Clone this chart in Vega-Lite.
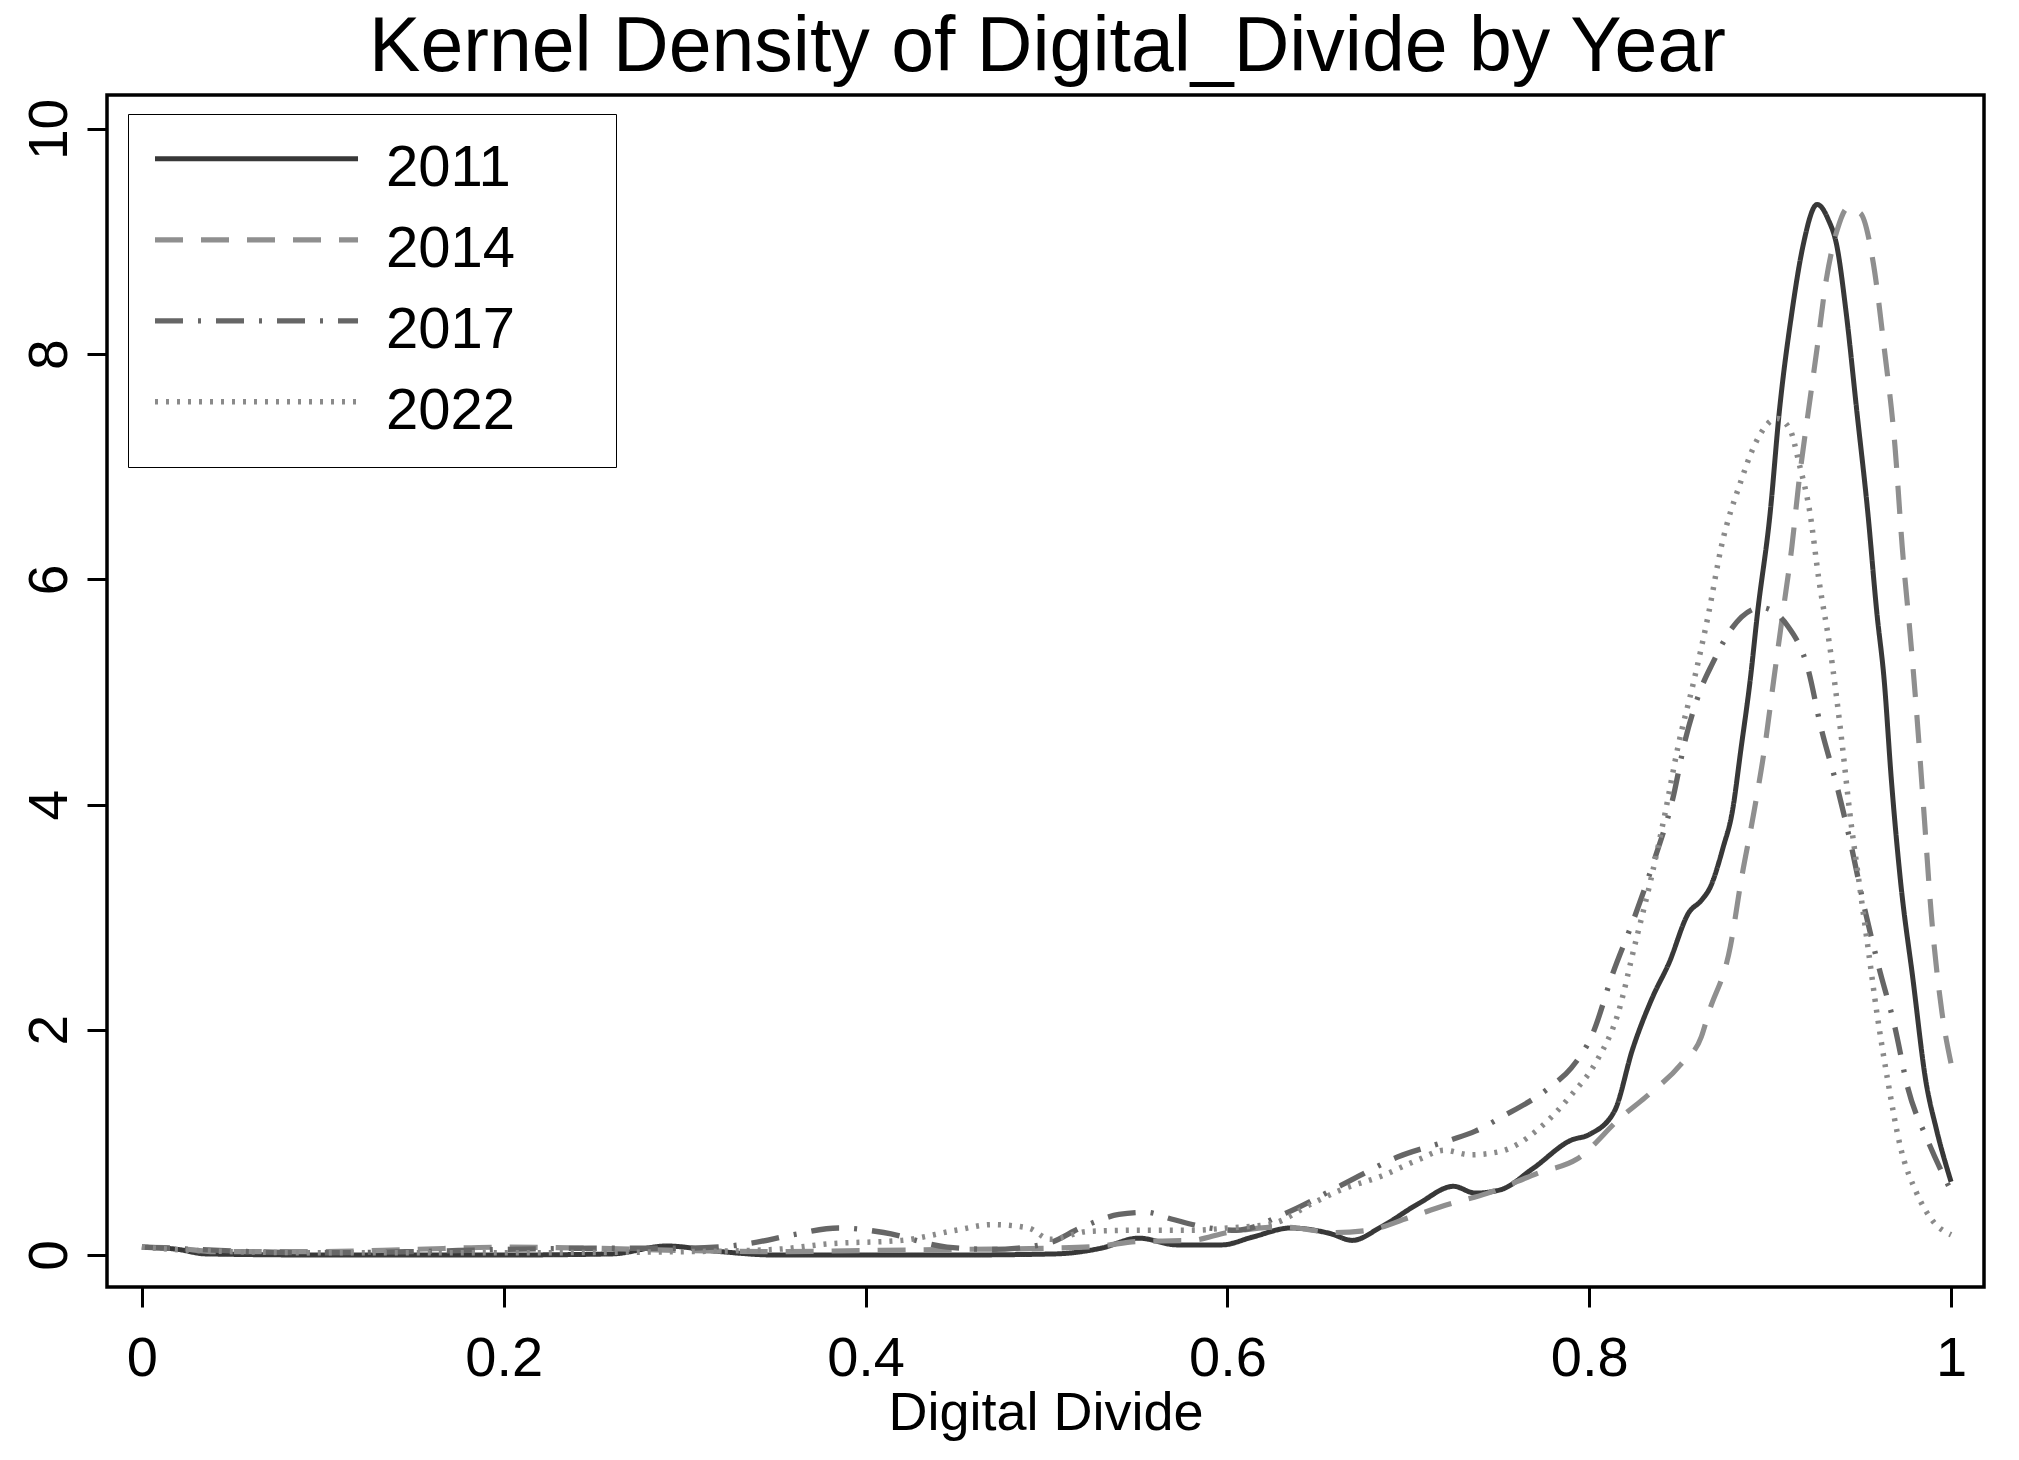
{
  "$schema": "https://vega.github.io/schema/vega-lite/v6.json",
  "width": 1877,
  "height": 1192,
  "autosize": "none",
  "padding": {"left": 107, "top": 95, "right": 35, "bottom": 173},
  "background": "white",
  "title": {
    "text": "Kernel Density of Digital_Divide by Year",
    "font": "Liberation Sans",
    "fontSize": 77,
    "fontWeight": "normal",
    "color": "black",
    "anchor": "middle",
    "offset": 8,
    "dx": 2
  },
  "config": {
    "view": {"stroke": "black", "strokeWidth": 3.5},
    "axis": {
      "grid": false,
      "domain": false,
      "tickColor": "black",
      "tickWidth": 3,
      "tickSize": 20,
      "labelFont": "Liberation Sans",
      "labelColor": "black",
      "titleFont": "Liberation Sans",
      "titleColor": "black",
      "titleFontWeight": "normal"
    }
  },
  "datasets": {
    "kd": [
      {"year": "2011", "x": 0.0, "d": 0.07},
      {"year": "2011", "x": 0.02, "d": 0.05},
      {"year": "2011", "x": 0.035, "d": 0.01},
      {"year": "2011", "x": 0.1, "d": 0.0},
      {"year": "2011", "x": 0.2, "d": 0.0},
      {"year": "2011", "x": 0.26, "d": 0.01},
      {"year": "2011", "x": 0.29, "d": 0.08},
      {"year": "2011", "x": 0.32, "d": 0.03},
      {"year": "2011", "x": 0.35, "d": 0.0},
      {"year": "2011", "x": 0.45, "d": 0.0},
      {"year": "2011", "x": 0.505, "d": 0.01},
      {"year": "2011", "x": 0.53, "d": 0.06},
      {"year": "2011", "x": 0.551, "d": 0.15},
      {"year": "2011", "x": 0.572, "d": 0.09},
      {"year": "2011", "x": 0.597, "d": 0.09},
      {"year": "2011", "x": 0.614, "d": 0.16},
      {"year": "2011", "x": 0.635, "d": 0.24},
      {"year": "2011", "x": 0.657, "d": 0.19},
      {"year": "2011", "x": 0.669, "d": 0.13},
      {"year": "2011", "x": 0.685, "d": 0.25},
      {"year": "2011", "x": 0.706, "d": 0.46},
      {"year": "2011", "x": 0.725, "d": 0.61},
      {"year": "2011", "x": 0.737, "d": 0.55},
      {"year": "2011", "x": 0.751, "d": 0.58},
      {"year": "2011", "x": 0.769, "d": 0.77},
      {"year": "2011", "x": 0.79, "d": 1.02},
      {"year": "2011", "x": 0.8, "d": 1.07},
      {"year": "2011", "x": 0.814, "d": 1.28},
      {"year": "2011", "x": 0.824, "d": 1.83},
      {"year": "2011", "x": 0.835, "d": 2.29},
      {"year": "2011", "x": 0.844, "d": 2.59},
      {"year": "2011", "x": 0.855, "d": 3.04},
      {"year": "2011", "x": 0.862, "d": 3.15},
      {"year": "2011", "x": 0.867, "d": 3.27},
      {"year": "2011", "x": 0.874, "d": 3.62},
      {"year": "2011", "x": 0.879, "d": 3.93},
      {"year": "2011", "x": 0.884, "d": 4.51},
      {"year": "2011", "x": 0.889, "d": 5.11},
      {"year": "2011", "x": 0.893, "d": 5.7},
      {"year": "2011", "x": 0.9, "d": 6.59},
      {"year": "2011", "x": 0.905, "d": 7.48},
      {"year": "2011", "x": 0.912, "d": 8.37},
      {"year": "2011", "x": 0.918, "d": 8.95},
      {"year": "2011", "x": 0.926, "d": 9.33},
      {"year": "2011", "x": 0.932, "d": 9.2},
      {"year": "2011", "x": 0.937, "d": 8.95},
      {"year": "2011", "x": 0.942, "d": 8.37},
      {"year": "2011", "x": 0.948, "d": 7.48},
      {"year": "2011", "x": 0.954, "d": 6.59},
      {"year": "2011", "x": 0.959, "d": 5.7},
      {"year": "2011", "x": 0.963, "d": 5.11},
      {"year": "2011", "x": 0.967, "d": 4.22},
      {"year": "2011", "x": 0.972, "d": 3.33},
      {"year": "2011", "x": 0.979, "d": 2.44},
      {"year": "2011", "x": 0.986, "d": 1.55},
      {"year": "2011", "x": 0.992, "d": 1.11},
      {"year": "2011", "x": 1.0, "d": 0.65},

      {"year": "2014", "x": 0.0, "d": 0.07},
      {"year": "2014", "x": 0.02, "d": 0.06},
      {"year": "2014", "x": 0.04, "d": 0.03},
      {"year": "2014", "x": 0.1, "d": 0.03},
      {"year": "2014", "x": 0.15, "d": 0.05},
      {"year": "2014", "x": 0.2, "d": 0.07},
      {"year": "2014", "x": 0.25, "d": 0.06},
      {"year": "2014", "x": 0.3, "d": 0.04},
      {"year": "2014", "x": 0.35, "d": 0.03},
      {"year": "2014", "x": 0.4, "d": 0.04},
      {"year": "2014", "x": 0.45, "d": 0.05},
      {"year": "2014", "x": 0.5, "d": 0.06},
      {"year": "2014", "x": 0.53, "d": 0.08},
      {"year": "2014", "x": 0.55, "d": 0.12},
      {"year": "2014", "x": 0.58, "d": 0.13},
      {"year": "2014", "x": 0.6, "d": 0.2},
      {"year": "2014", "x": 0.63, "d": 0.25},
      {"year": "2014", "x": 0.66, "d": 0.2},
      {"year": "2014", "x": 0.678, "d": 0.22},
      {"year": "2014", "x": 0.7, "d": 0.33},
      {"year": "2014", "x": 0.72, "d": 0.44},
      {"year": "2014", "x": 0.744, "d": 0.55},
      {"year": "2014", "x": 0.772, "d": 0.73},
      {"year": "2014", "x": 0.793, "d": 0.85},
      {"year": "2014", "x": 0.818, "d": 1.23},
      {"year": "2014", "x": 0.831, "d": 1.4},
      {"year": "2014", "x": 0.851, "d": 1.7},
      {"year": "2014", "x": 0.862, "d": 1.94},
      {"year": "2014", "x": 0.866, "d": 2.15},
      {"year": "2014", "x": 0.878, "d": 2.74},
      {"year": "2014", "x": 0.884, "d": 3.33},
      {"year": "2014", "x": 0.891, "d": 3.93},
      {"year": "2014", "x": 0.897, "d": 4.51},
      {"year": "2014", "x": 0.902, "d": 5.11},
      {"year": "2014", "x": 0.907, "d": 5.7},
      {"year": "2014", "x": 0.912, "d": 6.29},
      {"year": "2014", "x": 0.916, "d": 6.88},
      {"year": "2014", "x": 0.921, "d": 7.48},
      {"year": "2014", "x": 0.926, "d": 8.06},
      {"year": "2014", "x": 0.931, "d": 8.66},
      {"year": "2014", "x": 0.937, "d": 9.1},
      {"year": "2014", "x": 0.943, "d": 9.3},
      {"year": "2014", "x": 0.95, "d": 9.25},
      {"year": "2014", "x": 0.957, "d": 8.81},
      {"year": "2014", "x": 0.963, "d": 8.06},
      {"year": "2014", "x": 0.969, "d": 7.18},
      {"year": "2014", "x": 0.973, "d": 6.29},
      {"year": "2014", "x": 0.978, "d": 5.4},
      {"year": "2014", "x": 0.981, "d": 4.81},
      {"year": "2014", "x": 0.985, "d": 3.93},
      {"year": "2014", "x": 0.989, "d": 3.04},
      {"year": "2014", "x": 0.995, "d": 2.15},
      {"year": "2014", "x": 1.0, "d": 1.7},

      {"year": "2017", "x": 0.0, "d": 0.07},
      {"year": "2017", "x": 0.03, "d": 0.05},
      {"year": "2017", "x": 0.06, "d": 0.03},
      {"year": "2017", "x": 0.1, "d": 0.02},
      {"year": "2017", "x": 0.15, "d": 0.03},
      {"year": "2017", "x": 0.2, "d": 0.05},
      {"year": "2017", "x": 0.25, "d": 0.06},
      {"year": "2017", "x": 0.3, "d": 0.06},
      {"year": "2017", "x": 0.335, "d": 0.1},
      {"year": "2017", "x": 0.36, "d": 0.18},
      {"year": "2017", "x": 0.385, "d": 0.24},
      {"year": "2017", "x": 0.41, "d": 0.2},
      {"year": "2017", "x": 0.445, "d": 0.07},
      {"year": "2017", "x": 0.47, "d": 0.05},
      {"year": "2017", "x": 0.5, "d": 0.1},
      {"year": "2017", "x": 0.52, "d": 0.25},
      {"year": "2017", "x": 0.54, "d": 0.36},
      {"year": "2017", "x": 0.555, "d": 0.38},
      {"year": "2017", "x": 0.569, "d": 0.32},
      {"year": "2017", "x": 0.59, "d": 0.24},
      {"year": "2017", "x": 0.605, "d": 0.22},
      {"year": "2017", "x": 0.632, "d": 0.37},
      {"year": "2017", "x": 0.663, "d": 0.62},
      {"year": "2017", "x": 0.694, "d": 0.87},
      {"year": "2017", "x": 0.723, "d": 1.02},
      {"year": "2017", "x": 0.737, "d": 1.1},
      {"year": "2017", "x": 0.751, "d": 1.22},
      {"year": "2017", "x": 0.779, "d": 1.5},
      {"year": "2017", "x": 0.79, "d": 1.66},
      {"year": "2017", "x": 0.802, "d": 1.97},
      {"year": "2017", "x": 0.813, "d": 2.5},
      {"year": "2017", "x": 0.825, "d": 3.0},
      {"year": "2017", "x": 0.836, "d": 3.51},
      {"year": "2017", "x": 0.846, "d": 4.04},
      {"year": "2017", "x": 0.853, "d": 4.57},
      {"year": "2017", "x": 0.862, "d": 5.04},
      {"year": "2017", "x": 0.868, "d": 5.25},
      {"year": "2017", "x": 0.879, "d": 5.57},
      {"year": "2017", "x": 0.895, "d": 5.75},
      {"year": "2017", "x": 0.91, "d": 5.58},
      {"year": "2017", "x": 0.921, "d": 5.2},
      {"year": "2017", "x": 0.928, "d": 4.69},
      {"year": "2017", "x": 0.937, "d": 4.16},
      {"year": "2017", "x": 0.945, "d": 3.62},
      {"year": "2017", "x": 0.952, "d": 3.09},
      {"year": "2017", "x": 0.96, "d": 2.56},
      {"year": "2017", "x": 0.969, "d": 2.02},
      {"year": "2017", "x": 0.976, "d": 1.49},
      {"year": "2017", "x": 0.987, "d": 1.02},
      {"year": "2017", "x": 1.0, "d": 0.57},

      {"year": "2022", "x": 0.0, "d": 0.07},
      {"year": "2022", "x": 0.03, "d": 0.04},
      {"year": "2022", "x": 0.1, "d": 0.02},
      {"year": "2022", "x": 0.2, "d": 0.02},
      {"year": "2022", "x": 0.3, "d": 0.03},
      {"year": "2022", "x": 0.35, "d": 0.05},
      {"year": "2022", "x": 0.38, "d": 0.1},
      {"year": "2022", "x": 0.42, "d": 0.13},
      {"year": "2022", "x": 0.45, "d": 0.22},
      {"year": "2022", "x": 0.47, "d": 0.27},
      {"year": "2022", "x": 0.49, "d": 0.24},
      {"year": "2022", "x": 0.502, "d": 0.14},
      {"year": "2022", "x": 0.523, "d": 0.21},
      {"year": "2022", "x": 0.55, "d": 0.22},
      {"year": "2022", "x": 0.58, "d": 0.22},
      {"year": "2022", "x": 0.6, "d": 0.24},
      {"year": "2022", "x": 0.625, "d": 0.28},
      {"year": "2022", "x": 0.646, "d": 0.45},
      {"year": "2022", "x": 0.663, "d": 0.58},
      {"year": "2022", "x": 0.685, "d": 0.7},
      {"year": "2022", "x": 0.706, "d": 0.85},
      {"year": "2022", "x": 0.72, "d": 0.93},
      {"year": "2022", "x": 0.734, "d": 0.89},
      {"year": "2022", "x": 0.751, "d": 0.92},
      {"year": "2022", "x": 0.772, "d": 1.12},
      {"year": "2022", "x": 0.79, "d": 1.42},
      {"year": "2022", "x": 0.804, "d": 1.72},
      {"year": "2022", "x": 0.816, "d": 2.15},
      {"year": "2022", "x": 0.825, "d": 2.74},
      {"year": "2022", "x": 0.834, "d": 3.33},
      {"year": "2022", "x": 0.842, "d": 3.93},
      {"year": "2022", "x": 0.849, "d": 4.51},
      {"year": "2022", "x": 0.858, "d": 5.11},
      {"year": "2022", "x": 0.866, "d": 5.7},
      {"year": "2022", "x": 0.873, "d": 6.29},
      {"year": "2022", "x": 0.884, "d": 6.88},
      {"year": "2022", "x": 0.891, "d": 7.18},
      {"year": "2022", "x": 0.904, "d": 7.43},
      {"year": "2022", "x": 0.911, "d": 7.33},
      {"year": "2022", "x": 0.916, "d": 7.03},
      {"year": "2022", "x": 0.922, "d": 6.59},
      {"year": "2022", "x": 0.927, "d": 5.99},
      {"year": "2022", "x": 0.933, "d": 5.4},
      {"year": "2022", "x": 0.94, "d": 4.51},
      {"year": "2022", "x": 0.944, "d": 3.93},
      {"year": "2022", "x": 0.949, "d": 3.33},
      {"year": "2022", "x": 0.954, "d": 2.74},
      {"year": "2022", "x": 0.959, "d": 2.15},
      {"year": "2022", "x": 0.965, "d": 1.55},
      {"year": "2022", "x": 0.972, "d": 0.96},
      {"year": "2022", "x": 0.981, "d": 0.55},
      {"year": "2022", "x": 0.99, "d": 0.3},
      {"year": "2022", "x": 1.0, "d": 0.18}
    ]
  },
  "data": {"name": "kd"},
  "mark": {"type": "line", "interpolate": "monotone", "strokeCap": "butt", "clip": true},
  "encoding": {
    "x": {
      "field": "x",
      "type": "quantitative",
      "scale": {"domain": [-0.0193, 1.0182], "nice": false, "zero": false},
      "axis": {
        "title": "Digital Divide",
        "titleFontSize": 54,
        "titlePadding": 0,
        "values": [0, 0.2, 0.4, 0.6, 0.8, 1],
        "format": ".1~f",
        "labelFontSize": 56,
        "labelPadding": 24,
        "labelBaseline": "top",
        "labelAngle": 0
      }
    },
    "y": {
      "field": "d",
      "type": "quantitative",
      "scale": {"domain": [-0.284, 10.302], "nice": false, "zero": false},
      "axis": {
        "title": null,
        "values": [0, 2, 4, 6, 8, 10],
        "labelFontSize": 55,
        "labelAngle": -90,
        "labelAlign": "center",
        "labelBaseline": "alphabetic",
        "labelPadding": 21
      }
    },
    "color": {
      "field": "year",
      "type": "nominal",
      "scale": {"domain": ["2011", "2014", "2017", "2022"], "range": ["#383838", "#8f8f8f", "#666666", "#8a8a8a"]},
      "legend": {
        "title": null,
        "orient": "none",
        "legendX": 21,
        "legendY": 19,
        "direction": "vertical",
        "padding": 26,
        "strokeColor": "black",
        "fillColor": "white",
        "symbolType": "M0,-0.4H8",
        "symbolSize": 2576,
        "symbolOffset": -28,
        "labelFont": "Liberation Sans",
        "labelFontSize": 58,
        "labelColor": "black",
        "labelOffset": 202,
        "labelLimit": 0,
        "rowPadding": 23,
        "labelExpr": "datum.label + '\u00a0\u00a0\u2800'"
      }
    },
    "strokeDash": {
      "field": "year",
      "type": "nominal",
      "scale": {"domain": ["2011", "2014", "2017", "2022"], "range": [[1, 0], [28, 18], [28, 15, 3, 15], [3, 8]]}
    },
    "strokeWidth": {
      "field": "year",
      "type": "nominal",
      "scale": {"domain": ["2011", "2014", "2017", "2022"], "range": [5, 5.5, 5.5, 4]}
    }
  }
}
